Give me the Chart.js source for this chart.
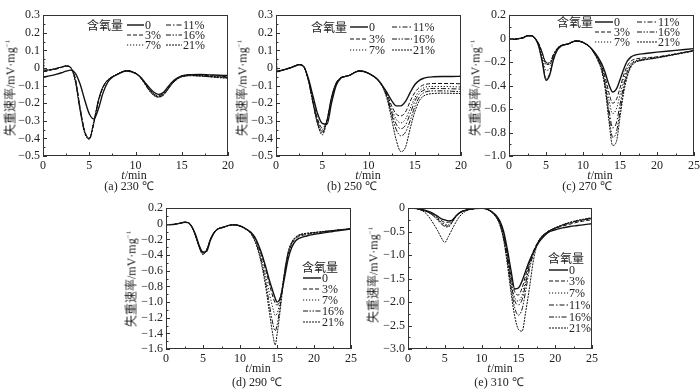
<!DOCTYPE html>
<html><head><meta charset="utf-8">
<script src="https://cdn.jsdelivr.net/npm/chart.js@4.4.1/dist/chart.umd.min.js"></script>
<style>
html,body{margin:0;padding:0;background:#fff;}
body{width:700px;height:389px;position:relative;overflow:hidden;font-family:"Liberation Serif","Times New Roman",serif;color:#222;}
canvas{position:absolute;}
.t{position:absolute;white-space:nowrap;transform:translate(-50%,-50%);font-size:12px;line-height:1;}
.yt{position:absolute;white-space:nowrap;transform:translate(-50%,-50%) rotate(-90deg);font-size:12px;line-height:1;}
.yt .cjk{font-size:12px;}
.cjk{font-family:"Noto Sans CJK SC",sans-serif;font-size:11px;}
.lg{position:absolute;white-space:nowrap;font-size:12px;line-height:1;display:flex;align-items:center;transform:translateY(-50%);}
.lg svg{display:block;margin-right:1px;}
sup{font-size:7px;vertical-align:5px;}
</style></head><body>
<script>
// ---------- data ----------
const labels6 = ['0','3%','7%','11%','16%','21%'];
const labels5 = ['0','3%','7%','16%','21%'];

const xTicksAB = [0,5,10,15,20];
const xTicksCDE = [0,5,10,15,20,25];
const yTicksAB = [0.3,0.2,0.1,0,-0.1,-0.2,-0.3,-0.4,-0.5];
const yTicksC = [0.2,0,-0.2,-0.4,-0.6,-0.8,-1.0];
const yTicksD = [0.2,0,-0.2,-0.4,-0.6,-0.8,-1.0,-1.2,-1.4,-1.6];
const yTicksE = [0,-0.5,-1.0,-1.5,-2.0,-2.5,-3.0];

// (a) 230 °C
const tA = [0,0.15,0.5,1,1.5,2,2.5,3,3.5,4,4.5,5,5.5,6,6.5,7,7.5,8,9,10,10.5,11,11.5,12,12.5,13,13.5,14,14.5,15,16,17,18,19,20];
const a0  = [-0.05,-0.05,-0.047,-0.042,-0.035,-0.027,-0.018,-0.012,-0.03,-0.09,-0.18,-0.26,-0.29,-0.23,-0.14,-0.08,-0.052,-0.038,-0.017,-0.03,-0.05,-0.08,-0.112,-0.138,-0.15,-0.14,-0.108,-0.078,-0.058,-0.045,-0.038,-0.037,-0.039,-0.041,-0.043];
const a3  = [-0.02,-0.02,-0.015,-0.01,-0.005,0.003,0.01,0.0,-0.06,-0.22,-0.355,-0.4,-0.31,-0.19,-0.11,-0.07,-0.05,-0.036,-0.016,-0.03,-0.05,-0.085,-0.12,-0.148,-0.158,-0.145,-0.11,-0.08,-0.058,-0.045,-0.038,-0.04,-0.043,-0.046,-0.05];
const a7  = [-0.015,-0.015,-0.012,-0.008,-0.003,0.005,0.012,0.002,-0.07,-0.23,-0.36,-0.395,-0.3,-0.18,-0.105,-0.068,-0.05,-0.035,-0.016,-0.03,-0.052,-0.088,-0.125,-0.152,-0.16,-0.148,-0.115,-0.082,-0.06,-0.046,-0.04,-0.042,-0.046,-0.05,-0.053];
const a11 = [-0.02,-0.02,-0.016,-0.01,-0.004,0.004,0.01,0.0,-0.065,-0.225,-0.36,-0.405,-0.315,-0.185,-0.108,-0.07,-0.05,-0.036,-0.015,-0.028,-0.05,-0.084,-0.12,-0.15,-0.162,-0.152,-0.12,-0.085,-0.062,-0.048,-0.042,-0.045,-0.05,-0.053,-0.056];
const a16 = [-0.01,-0.012,-0.01,-0.006,-0.001,0.006,0.012,0.003,-0.075,-0.235,-0.365,-0.4,-0.305,-0.18,-0.105,-0.068,-0.05,-0.036,-0.016,-0.03,-0.052,-0.09,-0.128,-0.155,-0.165,-0.155,-0.122,-0.088,-0.064,-0.05,-0.043,-0.045,-0.048,-0.05,-0.052];
const a21 = [0.19,-0.015,-0.012,-0.008,-0.002,0.006,0.013,0.004,-0.08,-0.24,-0.37,-0.405,-0.31,-0.182,-0.106,-0.068,-0.05,-0.036,-0.016,-0.03,-0.053,-0.09,-0.13,-0.157,-0.165,-0.155,-0.122,-0.088,-0.064,-0.05,-0.044,-0.046,-0.05,-0.055,-0.058];

// (b) 250 °C
const tB = [0,0.12,0.5,1,1.5,2,2.5,3,3.5,4,4.5,5,5.5,6,6.5,7,7.5,8,8.5,9,9.5,10,10.5,11,11.5,12,12.5,13,13.5,14,14.5,15,15.5,16,16.5,17,18,19,20];
const b0  = [-0.02,-0.02,-0.015,-0.008,0.0,0.01,0.018,0.008,-0.06,-0.16,-0.26,-0.315,-0.32,-0.2,-0.1,-0.058,-0.048,-0.04,-0.026,-0.017,-0.02,-0.03,-0.045,-0.065,-0.1,-0.14,-0.185,-0.215,-0.215,-0.19,-0.14,-0.095,-0.07,-0.058,-0.052,-0.05,-0.048,-0.048,-0.047];
const b3  = [-0.02,-0.02,-0.015,-0.008,0.0,0.01,0.02,0.008,-0.065,-0.18,-0.29,-0.34,-0.3,-0.18,-0.092,-0.056,-0.048,-0.04,-0.025,-0.016,-0.02,-0.03,-0.045,-0.066,-0.1,-0.148,-0.215,-0.262,-0.272,-0.25,-0.19,-0.14,-0.11,-0.095,-0.09,-0.088,-0.088,-0.088,-0.09];
const b7  = [-0.02,-0.02,-0.015,-0.008,0.0,0.01,0.02,0.008,-0.068,-0.19,-0.3,-0.35,-0.3,-0.175,-0.09,-0.055,-0.048,-0.04,-0.025,-0.016,-0.02,-0.03,-0.046,-0.067,-0.102,-0.155,-0.232,-0.292,-0.312,-0.29,-0.23,-0.17,-0.13,-0.112,-0.105,-0.105,-0.105,-0.106,-0.108];
const b11 = [-0.02,-0.02,-0.015,-0.008,0.0,0.01,0.02,0.008,-0.07,-0.195,-0.31,-0.36,-0.3,-0.17,-0.088,-0.055,-0.048,-0.04,-0.025,-0.016,-0.02,-0.03,-0.046,-0.067,-0.103,-0.16,-0.25,-0.32,-0.345,-0.325,-0.26,-0.19,-0.145,-0.125,-0.118,-0.116,-0.117,-0.118,-0.12];
const b16 = [-0.02,-0.02,-0.015,-0.008,0.0,0.01,0.02,0.008,-0.07,-0.2,-0.315,-0.37,-0.3,-0.168,-0.086,-0.055,-0.048,-0.04,-0.025,-0.016,-0.02,-0.03,-0.047,-0.068,-0.104,-0.165,-0.265,-0.35,-0.385,-0.365,-0.3,-0.22,-0.165,-0.14,-0.132,-0.13,-0.13,-0.132,-0.135];
const b21 = [0.2,-0.02,-0.015,-0.008,0.0,0.01,0.02,0.008,-0.072,-0.2,-0.32,-0.38,-0.3,-0.165,-0.085,-0.055,-0.048,-0.04,-0.025,-0.016,-0.02,-0.03,-0.047,-0.068,-0.106,-0.175,-0.29,-0.41,-0.475,-0.45,-0.345,-0.25,-0.185,-0.158,-0.148,-0.145,-0.143,-0.144,-0.145];

// (c) 270 °C
const tC = [0,0.5,1,1.5,2,2.5,3,3.5,4,4.5,5,5.5,6,6.5,7,7.5,8,8.5,9,9.5,10,10.5,11,11.5,12,12.5,13,13.5,14,14.5,15,15.5,16,16.5,17,18,19,20,22.5,25];
const c0  = [-0.005,-0.005,-0.003,0.002,0.01,0.025,0.025,0.005,-0.06,-0.2,-0.355,-0.31,-0.18,-0.1,-0.065,-0.052,-0.045,-0.03,-0.02,-0.022,-0.032,-0.05,-0.075,-0.11,-0.155,-0.21,-0.29,-0.39,-0.455,-0.43,-0.35,-0.26,-0.19,-0.155,-0.14,-0.13,-0.122,-0.115,-0.1,-0.085];
const c3  = [-0.005,-0.005,-0.003,0.002,0.01,0.025,0.025,0.005,-0.06,-0.19,-0.34,-0.3,-0.175,-0.098,-0.064,-0.052,-0.045,-0.03,-0.02,-0.022,-0.032,-0.05,-0.075,-0.115,-0.165,-0.23,-0.33,-0.46,-0.55,-0.52,-0.42,-0.31,-0.23,-0.19,-0.175,-0.165,-0.16,-0.155,-0.13,-0.1];
const c7  = [-0.005,-0.005,-0.003,0.002,0.01,0.025,0.025,0.005,-0.05,-0.16,-0.27,-0.26,-0.16,-0.092,-0.062,-0.051,-0.045,-0.03,-0.02,-0.022,-0.032,-0.05,-0.075,-0.12,-0.17,-0.24,-0.36,-0.52,-0.64,-0.6,-0.48,-0.35,-0.26,-0.21,-0.19,-0.175,-0.165,-0.158,-0.13,-0.1];
const c11 = [-0.005,-0.005,-0.003,0.002,0.01,0.025,0.025,0.005,-0.04,-0.12,-0.205,-0.21,-0.14,-0.085,-0.06,-0.05,-0.045,-0.03,-0.02,-0.022,-0.032,-0.05,-0.075,-0.12,-0.175,-0.25,-0.39,-0.6,-0.76,-0.72,-0.56,-0.4,-0.28,-0.22,-0.195,-0.18,-0.17,-0.16,-0.132,-0.102];
const c16 = [-0.005,-0.005,-0.003,0.002,0.01,0.025,0.025,0.005,-0.04,-0.12,-0.2,-0.205,-0.135,-0.083,-0.06,-0.05,-0.045,-0.03,-0.02,-0.022,-0.032,-0.05,-0.075,-0.125,-0.18,-0.26,-0.41,-0.65,-0.84,-0.8,-0.62,-0.43,-0.3,-0.23,-0.2,-0.183,-0.172,-0.162,-0.133,-0.103];
const c21 = [-0.005,-0.005,-0.003,0.002,0.01,0.025,0.025,0.005,-0.045,-0.13,-0.22,-0.22,-0.14,-0.085,-0.06,-0.05,-0.045,-0.03,-0.02,-0.022,-0.032,-0.05,-0.075,-0.125,-0.185,-0.27,-0.43,-0.7,-0.91,-0.88,-0.67,-0.46,-0.32,-0.24,-0.205,-0.185,-0.175,-0.165,-0.135,-0.105];

// (d) 290 °C
const tD = [0,0.5,1,1.5,2,2.5,3,3.5,4,4.5,5,5.5,6,6.5,7,7.5,8,8.5,9,9.5,10,10.5,11,11.5,12,12.5,13,13.5,14,14.5,14.75,15,15.5,16,16.5,17,17.5,18,19,20,22.5,25];
const d0  = [-0.01,-0.01,-0.008,0.0,0.01,0.02,0.015,-0.04,-0.14,-0.28,-0.36,-0.35,-0.21,-0.115,-0.066,-0.05,-0.035,-0.02,-0.013,-0.015,-0.028,-0.048,-0.078,-0.11,-0.17,-0.27,-0.4,-0.56,-0.73,-0.88,-0.95,-1.0,-0.93,-0.7,-0.45,-0.3,-0.22,-0.185,-0.155,-0.135,-0.098,-0.066];
const d3  = [-0.01,-0.01,-0.008,0.0,0.01,0.02,0.015,-0.04,-0.15,-0.29,-0.37,-0.34,-0.2,-0.11,-0.065,-0.05,-0.035,-0.02,-0.013,-0.015,-0.028,-0.048,-0.078,-0.115,-0.18,-0.29,-0.43,-0.6,-0.78,-0.95,-1.01,-1.04,-0.92,-0.66,-0.4,-0.26,-0.19,-0.16,-0.135,-0.12,-0.09,-0.065];
const d7  = [-0.01,-0.01,-0.008,0.0,0.01,0.02,0.015,-0.04,-0.15,-0.29,-0.375,-0.33,-0.2,-0.11,-0.065,-0.05,-0.035,-0.02,-0.013,-0.015,-0.028,-0.048,-0.078,-0.12,-0.2,-0.32,-0.48,-0.68,-0.9,-1.1,-1.17,-1.15,-0.95,-0.64,-0.38,-0.25,-0.18,-0.15,-0.128,-0.115,-0.088,-0.063];
const d16 = [-0.01,-0.01,-0.008,0.0,0.01,0.02,0.015,-0.04,-0.155,-0.3,-0.385,-0.33,-0.195,-0.108,-0.064,-0.05,-0.035,-0.02,-0.013,-0.015,-0.028,-0.048,-0.078,-0.125,-0.21,-0.34,-0.52,-0.76,-1.05,-1.3,-1.37,-1.3,-1.0,-0.63,-0.37,-0.24,-0.175,-0.145,-0.125,-0.112,-0.086,-0.062];
const d21 = [-0.01,-0.01,-0.008,0.0,0.01,0.02,0.015,-0.04,-0.16,-0.305,-0.395,-0.33,-0.195,-0.108,-0.064,-0.05,-0.035,-0.02,-0.013,-0.015,-0.028,-0.048,-0.078,-0.13,-0.22,-0.36,-0.56,-0.82,-1.15,-1.45,-1.55,-1.42,-1.05,-0.63,-0.36,-0.23,-0.17,-0.14,-0.12,-0.11,-0.085,-0.06];

// (e) 310 °C
const tE = [0,1,2,2.5,3,3.5,4,4.5,5,5.5,6,6.5,7,7.5,8,9,10,10.5,11,11.5,12,12.5,13,13.5,14,14.5,15,15.5,16,16.5,17,17.5,18,19,20,21,22,23,24,25];
const e0  = [0,0,-0.03,-0.05,-0.08,-0.12,-0.17,-0.22,-0.25,-0.27,-0.26,-0.17,-0.1,-0.06,-0.035,-0.01,0.0,-0.01,-0.04,-0.09,-0.16,-0.28,-0.5,-0.88,-1.33,-1.72,-1.7,-1.55,-1.33,-1.12,-0.95,-0.8,-0.68,-0.52,-0.46,-0.42,-0.39,-0.37,-0.35,-0.33];
const e3  = [0,-0.005,-0.04,-0.06,-0.09,-0.14,-0.2,-0.26,-0.3,-0.3,-0.25,-0.16,-0.09,-0.055,-0.035,-0.01,0.0,-0.01,-0.04,-0.09,-0.17,-0.3,-0.55,-0.98,-1.45,-1.78,-1.85,-1.7,-1.42,-1.15,-0.93,-0.76,-0.64,-0.5,-0.43,-0.38,-0.34,-0.3,-0.27,-0.245];
const e7  = [0,-0.005,-0.04,-0.07,-0.1,-0.15,-0.22,-0.29,-0.34,-0.35,-0.27,-0.17,-0.1,-0.06,-0.035,-0.01,0,-0.01,-0.04,-0.095,-0.18,-0.32,-0.6,-1.05,-1.55,-1.9,-1.98,-1.85,-1.52,-1.18,-0.94,-0.77,-0.64,-0.5,-0.43,-0.37,-0.32,-0.28,-0.25,-0.22];
const e11 = [0,-0.005,-0.04,-0.07,-0.11,-0.16,-0.23,-0.31,-0.37,-0.38,-0.29,-0.18,-0.1,-0.06,-0.035,-0.01,0,-0.01,-0.04,-0.1,-0.19,-0.33,-0.62,-1.08,-1.6,-1.97,-2.06,-1.95,-1.6,-1.22,-0.96,-0.78,-0.65,-0.5,-0.42,-0.36,-0.31,-0.27,-0.24,-0.21];
const e16 = [0,-0.005,-0.045,-0.075,-0.11,-0.17,-0.25,-0.33,-0.39,-0.4,-0.3,-0.18,-0.1,-0.06,-0.035,-0.01,0,-0.01,-0.04,-0.1,-0.195,-0.35,-0.65,-1.13,-1.7,-2.12,-2.28,-2.15,-1.75,-1.3,-1.0,-0.79,-0.65,-0.5,-0.42,-0.36,-0.31,-0.27,-0.24,-0.21];
const e21 = [0,-0.01,-0.06,-0.12,-0.22,-0.34,-0.47,-0.62,-0.73,-0.6,-0.45,-0.3,-0.18,-0.1,-0.05,-0.01,0,-0.01,-0.045,-0.1,-0.2,-0.37,-0.68,-1.2,-1.8,-2.3,-2.58,-2.62,-2.2,-1.7,-1.15,-0.8,-0.63,-0.5,-0.42,-0.35,-0.3,-0.26,-0.23,-0.2];

// ---------- styles ----------
const dashOf = {'0':[], '3%':[4,2], '7%':[1.2,1.8], '11%':[5,2,1.5,2], '16%':[5,1.5,1.5,1.5,1.5,1.5], '21%':[2,1]};
const widthOf = l => l==='0' ? 1.4 : 1;

const panels = [
  {L:43,T:13,R:228,B:156,xMax:20,xTicks:xTicksAB,yTicks:yTicksAB,t:tA,series:[a0,a3,a7,a11,a16,a21],labels:labels6,
   xt:[134,175],cap:[129,186,'(a) 230 ℃'],yt:[10,88],
   lg:{title:[87,25],cols:[{x:127,w:17,rows:[[25,'0'],[35,'3%'],[45,'7%']]},{x:166,w:16,rows:[[25,'11%'],[35,'16%'],[45,'21%']]}]}},
  {L:276,T:13,R:461,B:156,xMax:20,xTicks:xTicksAB,yTicks:yTicksAB,t:tB,series:[b0,b3,b7,b11,b16,b21],labels:labels6,
   xt:[368,175],cap:[352,186,'(b) 250 ℃'],yt:[242,88],
   lg:{title:[311,27],cols:[{x:350,w:18,rows:[[27,'0'],[39,'3%'],[50,'7%']]},{x:392,w:20,rows:[[27,'11%'],[39,'16%'],[50,'21%']]}]}},
  {L:509,T:13,R:694,B:156,xMax:25,xTicks:xTicksCDE,yTicks:yTicksC,t:tC,series:[c0,c3,c7,c11,c16,c21],labels:labels6,
   xt:[600,175],cap:[587,186,'(c) 270 ℃'],yt:[475,88],
   lg:{title:[557,22],cols:[{x:595,w:18,rows:[[22,'0'],[32,'3%'],[42,'7%']]},{x:637,w:20,rows:[[22,'11%'],[32,'16%'],[42,'21%']]}]}},
  {L:166,T:206,R:351,B:349,xMax:25,xTicks:xTicksCDE,yTicks:yTicksD,t:tD,series:[d0,d3,d7,d16,d21],labels:labels5,
   xt:[258,368],cap:[257,382,'(d) 290 ℃'],yt:[131,279],
   lg:{title:[302,267],cols:[{x:303,w:18,rows:[[278,'0'],[289,'3%'],[300,'7%'],[311,'16%'],[322,'21%']]}]}},
  {L:408,T:206,R:592,B:349,xMax:25,xTicks:xTicksCDE,yTicks:yTicksE,t:tE,series:[e0,e3,e7,e11,e16,e21],labels:labels6,
   xt:[500,368],cap:[499,382,'(e) 310 ℃'],yt:[373,275],
   lg:{title:[548,258],cols:[{x:549,w:19,rows:[[270,'0'],[281,'3%'],[293,'7%'],[305,'11%'],[317,'16%'],[328,'21%']]}]}}
];

const framePlugin = {
  id:'frame',
  afterDraw(chart){
    const {ctx, chartArea:a, scales:{x,y}} = chart;
    ctx.save();
    ctx.strokeStyle='#333'; ctx.lineWidth=1;
    const l=Math.round(a.left), r=Math.round(a.right), t=Math.round(a.top), b=Math.round(a.bottom);
    ctx.strokeRect(l+0.5,t+0.5,r-l-1,b-t-1);
    ctx.beginPath();
    const xv = x.ticks.map(k=>k.value);
    xv.forEach((v,i)=>{
      const px=Math.round(x.getPixelForValue(v))+0.5;
      ctx.moveTo(px,b); ctx.lineTo(px,b-4);
      if(i<xv.length-1){
        const pm=Math.round(x.getPixelForValue((v+xv[i+1])/2))+0.5;
        ctx.moveTo(pm,b); ctx.lineTo(pm,b-2.5);
      }
    });
    const yv = y.ticks.map(k=>k.value);
    yv.forEach((v,i)=>{
      const py=Math.round(y.getPixelForValue(v))+0.5;
      ctx.moveTo(l,py); ctx.lineTo(l+4,py);
      if(i<yv.length-1){
        const pm=Math.round(y.getPixelForValue((v+yv[i+1])/2))+0.5;
        ctx.moveTo(l,pm); ctx.lineTo(l+2.5,pm);
      }
    });
    ctx.stroke();
    ctx.restore();
  }
};

const fmtY = v => v===0 ? '0' : (v<0?'−':'') + Math.abs(v).toFixed(1);
const tickFont = {family:'"Liberation Serif","Times New Roman",serif', size:12};

function addText(cls, x, y, html){
  const d=document.createElement('div'); d.className=cls; d.style.left=x+'px'; d.style.top=y+'px'; d.innerHTML=html;
  document.body.appendChild(d); return d;
}
function sample(w, label){
  const dash = dashOf[label].join(',');
  return `<svg width="${w}" height="6"><line x1="0" y1="3" x2="${w}" y2="3" stroke="#111" stroke-width="${widthOf(label)}" ${dash?`stroke-dasharray="${dash}"`:''}/></svg>`;
}

function makePanel(p){
  const leftW=40, padT=8, padR=12, botH=18;
  const W = leftW + (p.R-p.L) + padR, H = padT + (p.B-p.T) + botH;
  const c=document.createElement('canvas');
  c.width=W; c.height=H;
  c.style.left=(p.L-leftW)+'px'; c.style.top=(p.T-padT)+'px'; c.style.width=W+'px'; c.style.height=H+'px';
  document.body.appendChild(c);
  new Chart(c,{
    type:'line',
    data:{datasets:p.series.map((s,i)=>({
      label:p.labels[i],
      data:p.t.map((tt,j)=>({x:tt,y:s[j]})),
      borderColor:'#111', borderWidth:widthOf(p.labels[i]), borderDash:dashOf[p.labels[i]],
      pointRadius:0, fill:false, cubicInterpolationMode:'monotone'
    }))},
    options:{
      responsive:false, animation:false, devicePixelRatio:1,
      layout:{padding:{left:0,top:padT,right:padR,bottom:0}},
      plugins:{legend:{display:false},tooltip:{enabled:false}},
      scales:{
        x:{type:'linear',min:0,max:p.xMax,
           afterBuildTicks:s=>{s.ticks=p.xTicks.map(v=>({value:v}));},
           afterFit:s=>{s.height=botH;},
           grid:{display:false,drawTicks:false},border:{display:false},
           ticks:{padding:3,font:tickFont,color:'#222',maxRotation:0,autoSkip:false,callback:v=>String(v)}},
        y:{type:'linear',min:p.yTicks[p.yTicks.length-1],max:p.yTicks[0],
           afterBuildTicks:s=>{s.ticks=p.yTicks.map(v=>({value:v}));},
           afterFit:s=>{s.width=leftW;},
           grid:{display:false,drawTicks:false},border:{display:false},
           ticks:{padding:3,font:tickFont,color:'#222',autoSkip:false,callback:fmtY}}
      }
    },
    plugins:[framePlugin]
  });
  addText('t',p.xt[0],p.xt[1],'<i>t</i>/min');
  addText('t',p.cap[0],p.cap[1],p.cap[2]);
  addText('yt',p.yt[0],p.yt[1],'<span class="cjk">失重速率</span>/mV·mg<sup>−1</sup>');
  addText('lg cjk',p.lg.title[0],p.lg.title[1],'含氧量');
  p.lg.cols.forEach(col=>col.rows.forEach(([yy,lab])=>{
    addText('lg',col.x,yy,sample(col.w,lab)+'<span>'+lab+'</span>');
  }));
}
panels.forEach(makePanel);
</script>
</body></html>
